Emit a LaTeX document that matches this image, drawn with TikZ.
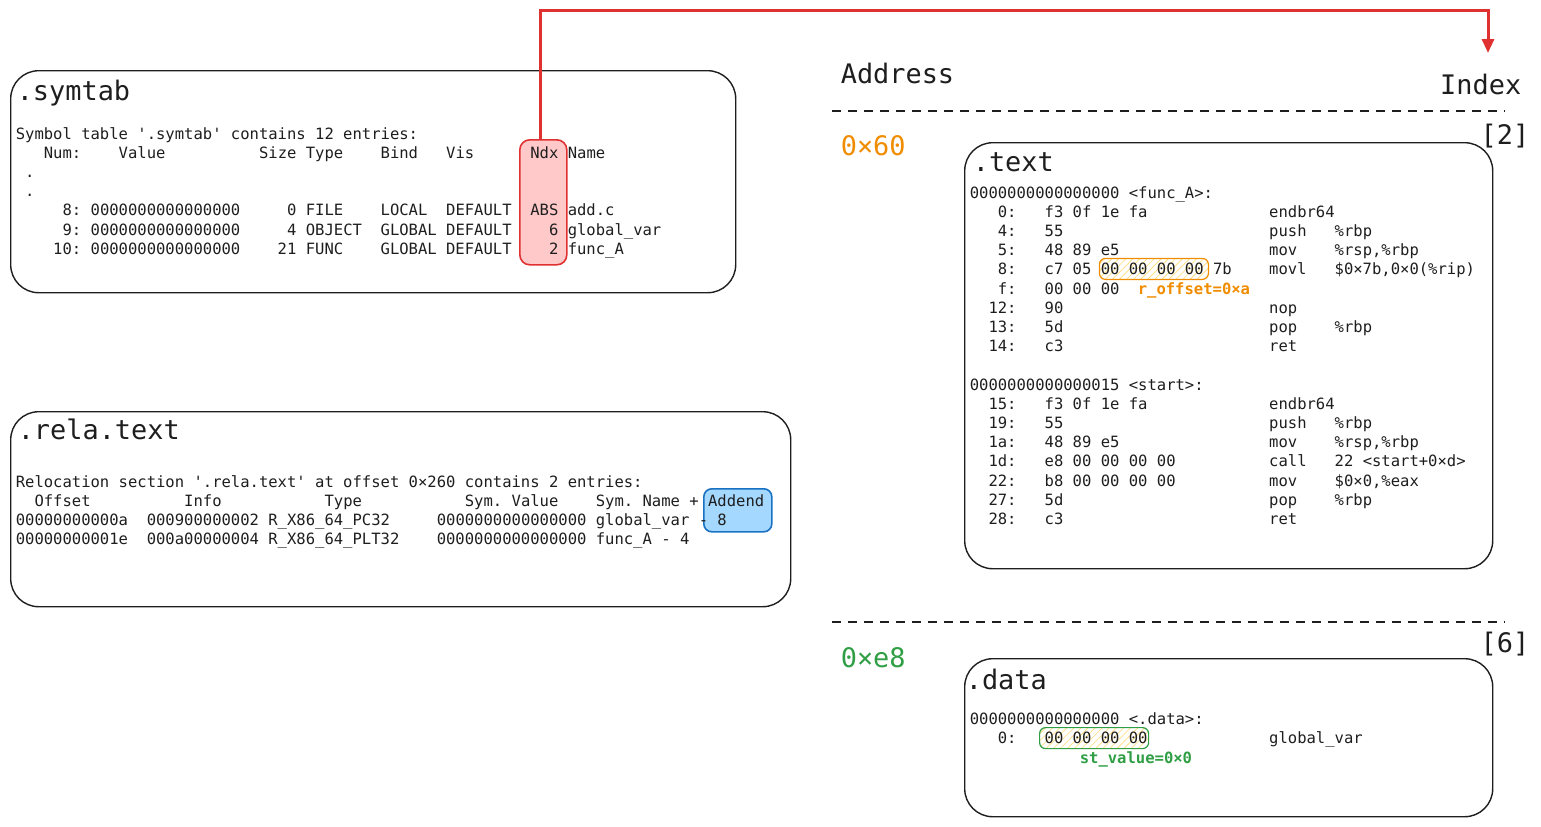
\documentclass[tikz,border=0pt]{standalone}
\usepackage{fontspec}
\setmonofont{DejaVu Sans Mono}
\usepackage{fancyvrb}
\usetikzlibrary{positioning,arrows.meta,patterns.meta}

\definecolor{exink}{HTML}{1E1E1E}
\definecolor{exred}{HTML}{E03131}
\definecolor{expink}{HTML}{FFC9C9}
\definecolor{exblue}{HTML}{1971C2}
\definecolor{exsky}{HTML}{A5D8FF}
\definecolor{exorange}{HTML}{F08C00}
\definecolor{exgreen}{HTML}{2F9E44}
\definecolor{exhatch}{HTML}{FFE08A}

\fvset{fontsize=\fontsize{7.77pt}{9.6pt}\selectfont, baseline=t}

\begin{document}
\begin{tikzpicture}[x=0.5pt, y=-0.5pt, thick, >={Triangle[width=6pt,length=7pt]},
    sect/.style = {draw=exink, line width=0.7pt, rounded corners=14pt, anchor=north west, inner sep=0},
    title/.style = {font=\ttfamily\fontsize{13.45pt}{16pt}\selectfont, text=exink, inner sep=0},
    code/.style = {anchor=base west, inner sep=0, text=exink},
    note/.style = {code, font=\ttfamily\bfseries\fontsize{7.77pt}{9.6pt}\selectfont},
    ndxbox/.style = {draw=exred, fill=expink, line width=0.8pt, rounded corners=5pt, anchor=north west, inner sep=0},
    addbox/.style = {draw=exblue, fill=exsky, line width=0.8pt, rounded corners=4pt, anchor=north west, inner sep=0},
    hatchbox/.style = {line width=0.6pt, rounded corners=3pt, anchor=north west, inner sep=0,
        minimum width=54.5pt, minimum height=10.5pt,
        pattern={Lines[angle=45,distance=2.5pt,line width=0.4pt]}, pattern color=exhatch},
    sep/.style = {draw=exink, line width=0.6pt, dash pattern=on 4.5pt off 3.5pt}]
    \useasboundingbox (0,0) rectangle (1541,826);

    % sections
    \node[sect, minimum width=362.5pt, minimum height=111pt] (symsec) at (10,70) {};
    \node[sect, minimum width=390pt, minimum height=97.5pt] (relasec) at (10,411) {};
    \node[sect, minimum width=264pt, minimum height=213pt] (textsec) at (964,142) {};
    \node[sect, minimum width=264pt, minimum height=79pt] (datasec) at (964,658) {};

    \node[title, anchor=base west] (symtitle) at ([shift={(6,30)}]symsec.north west) {.symtab};
    \node[title, anchor=base west] (relatitle) at ([shift={(7,28)}]relasec.north west) {.rela.text};
    \node[title, anchor=base west] (texttitle) at ([shift={(8,29)}]textsec.north west) {.text};
    \node[title, anchor=base west] (datatitle) at ([shift={(1,31)}]datasec.north west) {.data};

    % address / index column
    \node[title, anchor=base west] (addr) at (840,83) {Address};
    \node[title, anchor=base east] (idx) at (1522,94) {Index};
    \draw[sep] (832,111) -- (1505,111);
    \draw[sep] (832,622) -- (1505,622);
    \node[title, anchor=base west, text=exorange] (addr60) at (840,155) {0×60};
    \node[title, anchor=base east] (idx2) at (1530,144) {[2]};
    \node[title, anchor=base west, text=exgreen] (addre8) at (840,667) {0×e8};
    \node[title, anchor=base east] (idx6) at (1530,652) {[6]};

    % highlights
    \node[ndxbox, minimum width=23.5pt, minimum height=62.5pt] (ndx) at (519,139) {};
    \node[addbox, minimum width=34pt, minimum height=21.5pt] (addend) at (703,488) {};
    \node[hatchbox, draw=exorange] (roff) at (1099,258) {};
    \node[hatchbox, draw=exgreen] (stval) at (1039,727) {};

    \coordinate (tip) at (1488,53);
    \draw[->, exred, line width=1.5pt] ([xshift=-1.25pt]ndx.north) -- ++(0,-129) -| (tip);

    % readelf / objdump output
    \node[code] (symrows) at ([shift={(5,69)}]symsec.north west) {%
\begin{BVerbatim}
Symbol table '.symtab' contains 12 entries:
   Num:    Value          Size Type    Bind   Vis      Ndx Name
 .
 .
     8: 0000000000000000     0 FILE    LOCAL  DEFAULT  ABS add.c
     9: 0000000000000000     4 OBJECT  GLOBAL DEFAULT    6 global_var
    10: 0000000000000000    21 FUNC    GLOBAL DEFAULT    2 func_A
\end{BVerbatim}
};
    \node[code] (relarows) at ([shift={(5,76)}]relasec.north west) {%
\begin{BVerbatim}
Relocation section '.rela.text' at offset 0×260 contains 2 entries:
  Offset          Info           Type           Sym. Value    Sym. Name + Addend
00000000000a  000900000002 R_X86_64_PC32     0000000000000000 global_var - 8
00000000001e  000a00000004 R_X86_64_PLT32    0000000000000000 func_A - 4
\end{BVerbatim}
};
    \node[code] (textrows) at ([shift={(5,56)}]textsec.north west) {%
\begin{BVerbatim}
0000000000000000 <func_A>:
   0:   f3 0f 1e fa             endbr64
   4:   55                      push   %rbp
   5:   48 89 e5                mov    %rsp,%rbp
   8:   c7 05 00 00 00 00 7b    movl   $0×7b,0×0(%rip)
   f:   00 00 00
  12:   90                      nop
  13:   5d                      pop    %rbp
  14:   c3                      ret

0000000000000015 <start>:
  15:   f3 0f 1e fa             endbr64
  19:   55                      push   %rbp
  1a:   48 89 e5                mov    %rsp,%rbp
  1d:   e8 00 00 00 00          call   22 <start+0×d>
  22:   b8 00 00 00 00          mov    $0×0,%eax
  27:   5d                      pop    %rbp
  28:   c3                      ret
\end{BVerbatim}
};
    \node[code] (datarows) at ([shift={(5,66)}]datasec.north west) {%
\begin{BVerbatim}
0000000000000000 <.data>:
   0:   00 00 00 00             global_var
\end{BVerbatim}
};

    \node[note, text=exorange] (rofflabel) at (1137,294) {r\_offset=0×a};
    \node[note, text=exgreen] (stvallabel) at (1079,763) {st\_value=0×0};

\end{tikzpicture}
\end{document}
